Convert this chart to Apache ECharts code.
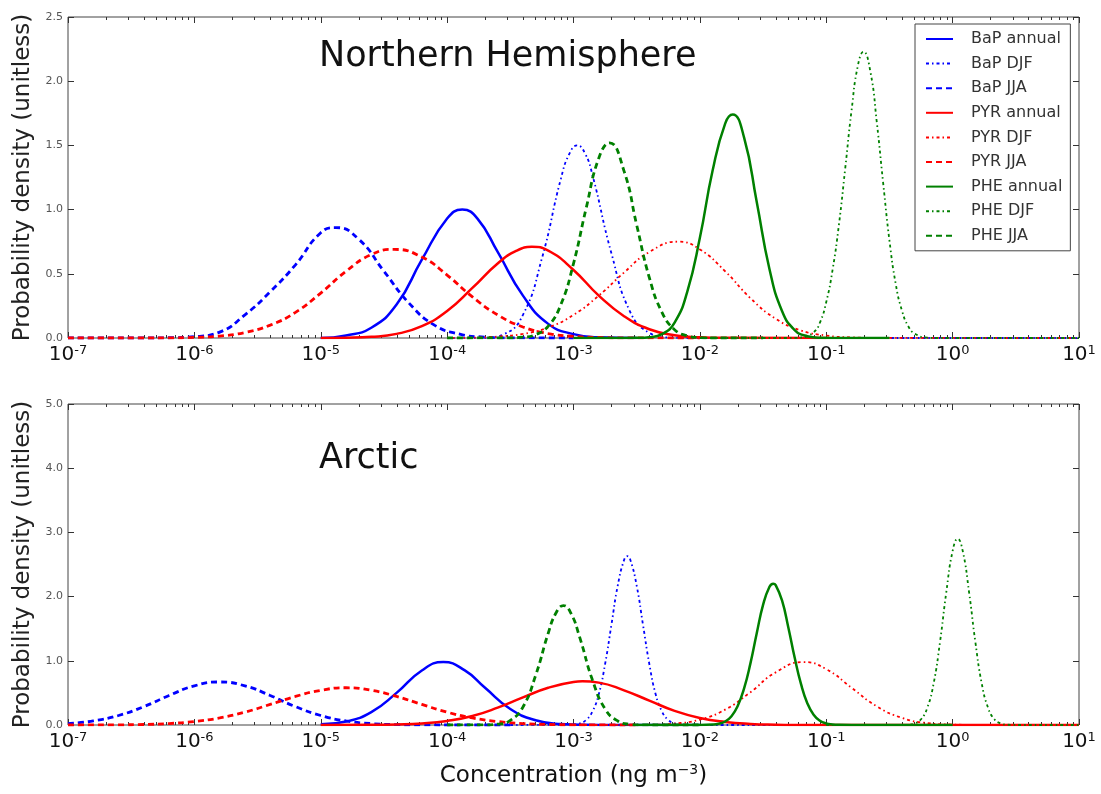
<!DOCTYPE html>
<html>
<head>
<meta charset="utf-8">
<title>PAH concentration distributions</title>
<script src="https://cdn.jsdelivr.net/npm/echarts@6/dist/echarts.min.js"></script>
<style>
  html, body { margin: 0; padding: 0; background: #fff; }
  #chart { width: 1101px; height: 794px; }
</style>
</head>
<body>
<div id="chart"></div>
<script>
// x = log10 of concentration (ng m-3), y = probability density
const seriesNames = ["BaP annual", "BaP DJF", "BaP JJA", "PYR annual", "PYR DJF", "PYR JJA", "PHE annual", "PHE DJF", "PHE JJA"];
const decadeExponents = [-7, -6, -5, -4, -3, -2, -1, 0, 1];
const yTicksNH = [0, 0.5, 1.0, 1.5, 2.0, 2.5];
const yTicksArctic = [0, 1, 2, 3, 4, 5];

// Northern Hemisphere
const nhBapAnnual = [[-5.0, 0], [-4.8, 0.02], [-4.6, 0.08], [-4.4, 0.26], [-4.2, 0.61], [-4.0, 0.93], [-3.88, 1.0], [-3.76, 0.93], [-3.6, 0.67], [-3.4, 0.33], [-3.2, 0.11], [-3.0, 0.03], [-2.8, 0.005], [-2.5, 0]];
const nhBapDjf = [[-4.0, 0], [-3.7, 0.002], [-3.55, 0.03], [-3.4, 0.18], [-3.25, 0.62], [-3.1, 1.24], [-3.03, 1.44], [-2.97, 1.5], [-2.91, 1.44], [-2.85, 1.27], [-2.7, 0.66], [-2.55, 0.2], [-2.4, 0.04], [-2.25, 0.004], [-2.0, 0], [1.0, 0]];
const nhBapJja = [[-7.0, 0], [-6.4, 0], [-6.2, 0.002], [-6.0, 0.011], [-5.8, 0.046], [-5.6, 0.18], [-5.4, 0.36], [-5.2, 0.57], [-5.0, 0.82], [-4.88, 0.86], [-4.7, 0.77], [-4.5, 0.52], [-4.3, 0.27], [-4.1, 0.1], [-3.9, 0.03], [-3.7, 0.007], [-3.5, 0.001], [-3.0, 0]];
const nhPyrAnnual = [[-5.0, 0], [-4.8, 0.002], [-4.6, 0.009], [-4.4, 0.032], [-4.2, 0.092], [-4.0, 0.21], [-3.8, 0.39], [-3.6, 0.58], [-3.45, 0.68], [-3.33, 0.71], [-3.2, 0.68], [-3.0, 0.53], [-2.8, 0.33], [-2.6, 0.17], [-2.4, 0.068], [-2.2, 0.022], [-2.0, 0.006], [-1.8, 0.001], [-1.0, 0]];
const nhPyrDjf = [[-4.0, 0], [-3.8, 0.003], [-3.6, 0.011], [-3.4, 0.032], [-3.2, 0.082], [-3.0, 0.18], [-2.8, 0.33], [-2.6, 0.51], [-2.4, 0.67], [-2.17, 0.75], [-2.0, 0.69], [-1.8, 0.52], [-1.6, 0.31], [-1.4, 0.15], [-1.2, 0.059], [-1.0, 0.019], [-0.8, 0.005], [-0.6, 0.001], [1.0, 0]];
const nhPyrJja = [[-7.0, 0], [-6.4, 0], [-6.2, 0.001], [-6.0, 0.005], [-5.8, 0.015], [-5.6, 0.043], [-5.4, 0.1], [-5.2, 0.2], [-5.0, 0.35], [-4.8, 0.52], [-4.6, 0.65], [-4.42, 0.69], [-4.2, 0.63], [-4.0, 0.49], [-3.8, 0.32], [-3.6, 0.18], [-3.4, 0.086], [-3.2, 0.035], [-3.0, 0.012], [-2.8, 0.004], [-2.6, 0.001], [-2.0, 0]];
const nhPheAnnual = [[-3.0, 0], [-2.6, 0], [-2.5, 0.001], [-2.4, 0.006], [-2.3, 0.03], [-2.2, 0.12], [-2.1, 0.36], [-2.0, 0.78], [-1.9, 1.3], [-1.8, 1.67], [-1.74, 1.74], [-1.65, 1.56], [-1.55, 1.06], [-1.45, 0.54], [-1.35, 0.21], [-1.25, 0.062], [-1.15, 0.014], [-1.05, 0.002], [-0.9, 0], [-0.5, 0]];
const nhPheDjf = [[-2.0, 0], [-1.3, 0], [-1.2, 0.004], [-1.1, 0.045], [-1.05, 0.12], [-1.0, 0.28], [-0.95, 0.53], [-0.9, 0.88], [-0.85, 1.32], [-0.8, 1.77], [-0.75, 2.12], [-0.705, 2.23], [-0.65, 2.07], [-0.6, 1.68], [-0.55, 1.21], [-0.5, 0.76], [-0.45, 0.42], [-0.4, 0.21], [-0.35, 0.09], [-0.3, 0.034], [-0.2, 0.003], [-0.1, 0], [1.0, 0]];
const nhPheJja = [[-4.0, 0], [-3.5, 0.001], [-3.4, 0.006], [-3.3, 0.026], [-3.2, 0.093], [-3.1, 0.26], [-3.0, 0.58], [-2.9, 1.01], [-2.8, 1.4], [-2.715, 1.52], [-2.6, 1.3], [-2.5, 0.88], [-2.4, 0.47], [-2.3, 0.2], [-2.2, 0.065], [-2.1, 0.017], [-2.0, 0.003], [-1.9, 0], [-1.5, 0]];

// Arctic
const arcBapAnnual = [[-5.0, 0.01], [-4.8, 0.054], [-4.6, 0.2], [-4.4, 0.5], [-4.2, 0.85], [-4.03, 0.98], [-3.86, 0.85], [-3.7, 0.58], [-3.5, 0.25], [-3.3, 0.073], [-3.1, 0.014], [-2.9, 0.002], [-2.7, 0], [-2.0, 0]];
const arcBapDjf = [[-3.5, 0], [-3.0, 0.006], [-2.95, 0.024], [-2.9, 0.077], [-2.85, 0.21], [-2.8, 0.48], [-2.75, 0.95], [-2.7, 1.56], [-2.65, 2.17], [-2.6, 2.57], [-2.575, 2.63], [-2.55, 2.57], [-2.5, 2.17], [-2.45, 1.56], [-2.4, 0.95], [-2.35, 0.48], [-2.3, 0.21], [-2.25, 0.077], [-2.2, 0.024], [-2.15, 0.006], [-2.1, 0.001], [-2.0, 0], [1.0, 0]];
const arcBapJja = [[-7.0, 0.022], [-6.8, 0.063], [-6.6, 0.148], [-6.4, 0.286], [-6.2, 0.46], [-6.0, 0.61], [-5.8, 0.67], [-5.6, 0.61], [-5.4, 0.46], [-5.2, 0.286], [-5.0, 0.148], [-4.8, 0.063], [-4.6, 0.022], [-4.4, 0.006], [-4.2, 0.002], [-4.0, 0], [-3.5, 0]];
const arcPyrAnnual = [[-5.0, 0], [-4.6, 0.002], [-4.4, 0.008], [-4.2, 0.024], [-4.0, 0.063], [-3.8, 0.14], [-3.6, 0.27], [-3.4, 0.43], [-3.2, 0.58], [-3.0, 0.67], [-2.93, 0.68], [-2.8, 0.66], [-2.6, 0.54], [-2.4, 0.38], [-2.2, 0.22], [-2.0, 0.11], [-1.8, 0.048], [-1.6, 0.017], [-1.4, 0.005], [-1.2, 0.001], [-1.0, 0], [1.0, 0]];
const arcPyrDjf = [[-3.0, 0], [-2.6, 0.001], [-2.4, 0.004], [-2.2, 0.022], [-2.0, 0.084], [-1.8, 0.24], [-1.6, 0.51], [-1.4, 0.82], [-1.18, 0.98], [-1.0, 0.87], [-0.8, 0.58], [-0.6, 0.29], [-0.4, 0.11], [-0.2, 0.03], [0.0, 0.006], [0.2, 0.001], [0.5, 0], [1.0, 0]];
const arcPyrJja = [[-7.0, 0], [-6.6, 0.003], [-6.4, 0.008], [-6.2, 0.023], [-6.0, 0.054], [-5.8, 0.11], [-5.6, 0.2], [-5.4, 0.32], [-5.2, 0.445], [-5.0, 0.54], [-4.8, 0.58], [-4.6, 0.54], [-4.4, 0.445], [-4.2, 0.32], [-4.0, 0.2], [-3.8, 0.11], [-3.6, 0.054], [-3.4, 0.023], [-3.2, 0.008], [-3.0, 0.003], [-2.8, 0.001], [-2.5, 0]];
const arcPheAnnual = [[-2.5, 0], [-2.0, 0], [-1.9, 0.006], [-1.85, 0.02], [-1.8, 0.055], [-1.75, 0.137], [-1.7, 0.3], [-1.65, 0.57], [-1.6, 0.96], [-1.55, 1.43], [-1.5, 1.87], [-1.45, 2.15], [-1.42, 2.2], [-1.4, 2.18], [-1.35, 1.94], [-1.3, 1.52], [-1.25, 1.05], [-1.2, 0.64], [-1.15, 0.34], [-1.1, 0.16], [-1.05, 0.067], [-1.0, 0.024], [-0.95, 0.008], [-0.9, 0.002], [-0.8, 0], [0.0, 0]];
const arcPheDjf = [[-1.0, 0], [-0.45, 0], [-0.4, 0.001], [-0.35, 0.005], [-0.3, 0.024], [-0.25, 0.09], [-0.2, 0.27], [-0.15, 0.65], [-0.1, 1.29], [-0.05, 2.07], [0.0, 2.71], [0.04, 2.9], [0.08, 2.71], [0.13, 2.07], [0.18, 1.29], [0.23, 0.65], [0.28, 0.27], [0.33, 0.09], [0.38, 0.024], [0.43, 0.005], [0.48, 0.001], [0.55, 0], [1.0, 0]];
const arcPheJja = [[-4.0, 0], [-3.7, 0.002], [-3.6, 0.013], [-3.5, 0.073], [-3.4, 0.28], [-3.3, 0.77], [-3.2, 1.43], [-3.14, 1.74], [-3.08, 1.86], [-3.02, 1.74], [-2.95, 1.36], [-2.85, 0.7], [-2.75, 0.25], [-2.65, 0.063], [-2.55, 0.011], [-2.45, 0.001], [-2.3, 0], [-2.0, 0]];

const nhData = [nhBapAnnual, nhBapDjf, nhBapJja, nhPyrAnnual, nhPyrDjf, nhPyrJja, nhPheAnnual, nhPheDjf, nhPheJja];
const arcData = [arcBapAnnual, arcBapDjf, arcBapJja, arcPyrAnnual, arcPyrDjf, arcPyrJja, arcPheAnnual, arcPheDjf, arcPheJja];

const FONT = "DejaVu Sans";
const colors = ["#0000ff", "#ff0000", "#008000"];
// annual = solid, DJF = dash-dot, JJA = dashed
const lineTypes = [
  { type: "solid", width: 2.5 },
  { type: [3, 3, 1.5, 3], width: 1.8 },
  { type: [6, 4], width: 2.8 },
];

// log minor tick positions (2..9 x 10^n)
const minorTicks = [];
decadeExponents.slice(0, -1).forEach((n) => {
  for (let k = 2; k <= 9; k++) minorTicks.push(n + Math.log10(k));
});

let chart = echarts.init(document.getElementById("chart"), null, { renderer: "canvas" });

const grids = [
  { left: 68, top: 17, width: 1011, height: 321 },
  { left: 68, top: 404, width: 1011, height: 321 },
];

let xAxes = [];
let yAxes = [];
grids.forEach((g, gi) => {
  const base = { gridIndex: gi, type: "value", min: -7, max: 1, splitLine: { show: false }, axisLine: { show: false, onZero: false } };
  // main bottom axis with labels
  xAxes.push(Object.assign({}, base, {
    position: "bottom",
    axisTick: { show: true, inside: true, length: 6, customValues: decadeExponents, lineStyle: { color: "#333" } },
    axisLabel: {
      show: true, margin: 6, customValues: decadeExponents,
      formatter: (v) => "{b|10}{s|" + v + "}",
      rich: {
        b: { fontFamily: FONT, fontSize: 20, color: "#111" },
        s: { fontFamily: FONT, fontSize: 13, color: "#111", padding: [0, 0, 9, 0] },
      },
    },
    name: gi === 1 ? "Concentration (ng m{s|\u22123})" : "",
    nameLocation: "middle",
    nameGap: 38,
    nameTextStyle: {
      fontFamily: FONT, fontSize: 23, color: "#111",
      rich: { s: { fontFamily: FONT, fontSize: 14, color: "#111", padding: [0, 0, 12, 0] } },
    },
  }));
  xAxes.push(Object.assign({}, base, {
    position: "bottom", axisLabel: { show: false },
    axisTick: { show: true, inside: true, length: 3, customValues: minorTicks, lineStyle: { color: "#333" } },
  }));
  xAxes.push(Object.assign({}, base, {
    position: "top", axisLabel: { show: false },
    axisTick: { show: true, inside: true, length: 6, customValues: decadeExponents, lineStyle: { color: "#333" } },
  }));
  xAxes.push(Object.assign({}, base, {
    position: "top", axisLabel: { show: false },
    axisTick: { show: true, inside: true, length: 3, customValues: minorTicks, lineStyle: { color: "#333" } },
  }));

  const yt = gi === 0 ? yTicksNH : yTicksArctic;
  const ybase = { gridIndex: gi, type: "value", min: 0, max: yt[yt.length - 1], splitLine: { show: false }, axisLine: { show: false, onZero: false } };
  yAxes.push(Object.assign({}, ybase, {
    position: "left",
    axisTick: { show: true, inside: true, length: 6, customValues: yt, lineStyle: { color: "#333" } },
    axisLabel: { show: true, margin: 5, customValues: yt, formatter: (v) => v.toFixed(1), fontFamily: FONT, fontSize: 11, color: "#555" },
    name: "Probability density (unitless)",
    nameLocation: "middle",
    nameGap: 33,
    nameTextStyle: { fontFamily: FONT, fontSize: 23, color: "#222" },
  }));
  yAxes.push(Object.assign({}, ybase, {
    position: "right", axisLabel: { show: false },
    axisTick: { show: true, inside: true, length: 6, customValues: yt, lineStyle: { color: "#333" } },
  }));
});

let series = [];
[nhData, arcData].forEach((panel, gi) => {
  panel.forEach((pts, i) => {
    const ls = lineTypes[i % 3];
    series.push({
      name: seriesNames[i],
      type: "line",
      xAxisIndex: gi * 4,
      yAxisIndex: gi * 2,
      data: pts,
      symbol: "none",
      smooth: 0.5,
      clip: true,
      lineStyle: { color: colors[Math.floor(i / 3)], width: ls.width, type: ls.type },
      itemStyle: { color: colors[Math.floor(i / 3)] },
      emphasis: { disabled: true },
    });
  });
});

let option = {
  animation: false,
  backgroundColor: "#fff",
  title: [
    { text: "Northern Hemisphere", left: 319, top: 39, padding: 0, textStyle: { fontFamily: FONT, fontSize: 35, fontWeight: "normal", color: "#111" } },
    { text: "Arctic", left: 319, top: 441, padding: 0, textStyle: { fontFamily: FONT, fontSize: 35, fontWeight: "normal", color: "#111" } },
  ],
  grid: grids.map((g) => Object.assign({ show: true, borderColor: "#444", borderWidth: 1, backgroundColor: "transparent" }, g)),
  legend: {
    data: seriesNames,
    orient: "vertical",
    left: 915,
    top: 24,
    itemWidth: 27,
    itemHeight: 14,
    itemGap: 8.6,
    padding: [7, 8, 7, 10],
    borderColor: "#444",
    borderWidth: 1,
    backgroundColor: "#fff",
    selectedMode: false,
    itemStyle: { opacity: 0 },
    textStyle: { fontFamily: FONT, fontSize: 16, color: "#333", padding: [0, 0, 0, 13] },
  },
  xAxis: xAxes,
  yAxis: yAxes,
  series: series,
};

chart.setOption(option);
</script>
</body>
</html>
